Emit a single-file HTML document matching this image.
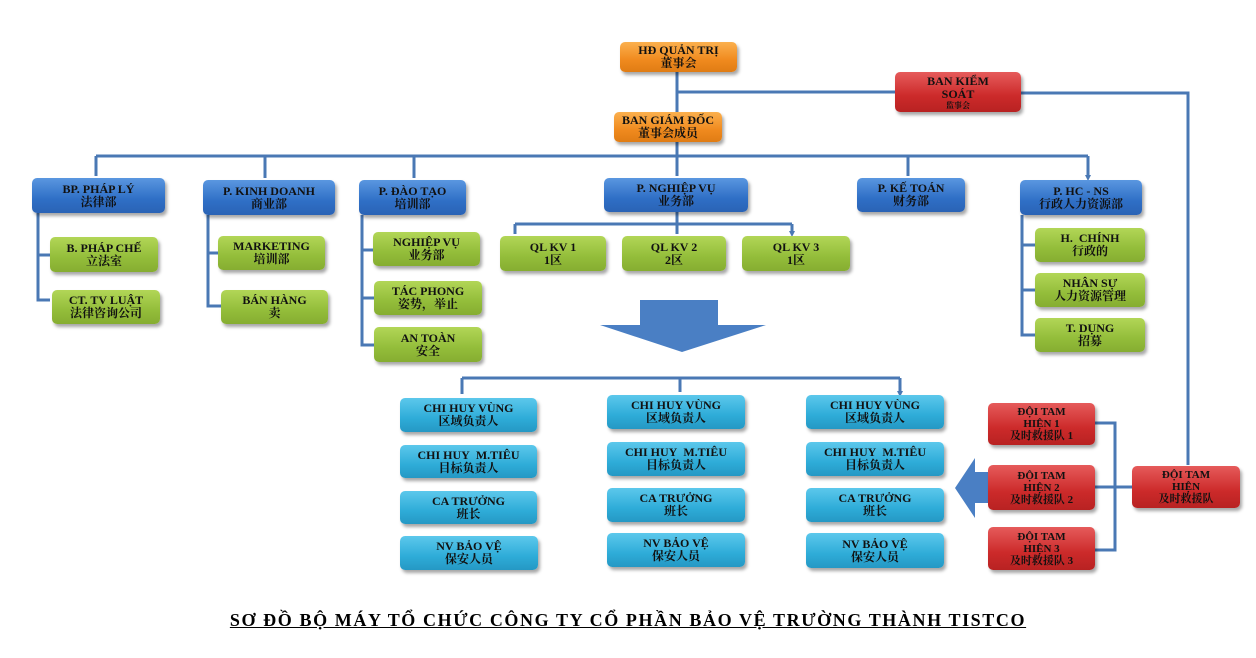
<!DOCTYPE html>
<html><head><meta charset="utf-8"><style>
body{margin:0;width:1256px;height:658px;background:#fff;position:relative;overflow:hidden;font-family:"Liberation Serif","Noto Serif CJK SC","Noto Sans CJK SC",serif}
.b{position:absolute;border-radius:5px;box-shadow:2px 3px 3px rgba(0,0,0,.35);font-weight:bold;font-size:12px;line-height:13px;text-align:center;display:flex;flex-direction:column;justify-content:center;color:#111;box-sizing:border-box}
.bl{background:linear-gradient(#5a97e0,#2f6fc6 60%,#2a63b5)}
.gr{background:linear-gradient(#b2d657,#93bd3a 60%,#86ad31)}
.or{background:linear-gradient(#fbb04e,#f08a1e 60%,#e07c14)}
.rd{background:linear-gradient(#e65b5b,#cc2a2a 60%,#b82222)}
.cy{background:linear-gradient(#5cc8ec,#2eacd8 60%,#2598c4)}
svg{position:absolute;left:0;top:0}
.t{position:absolute;left:0;width:1256px;top:610px;text-align:center;font-weight:bold;font-size:18px;letter-spacing:1.6px;text-decoration:underline}
</style></head><body>
<svg width="1256" height="658" fill="none" stroke="#4a78b4" stroke-width="3">
<defs><marker id="a" markerWidth="6" markerHeight="6" refX="3" refY="3" orient="auto" markerUnits="userSpaceOnUse"><path d="M0,0L6,3L0,6z" fill="#4a78b4" stroke="none"/></marker></defs>
<path d="M677 72V112M677 92H895M1021 93H1188V465"/>
<path d="M677 142V176M96 156H1088"/>
<path d="M96 156V176M265 156V178M414 156V178M908 156V176M1088 156V178" marker-end="url(#a)"/>
<path d="M677 212V234M515 224H792M515 224V234M792 224V234" marker-end="url(#a)"/>
<path d="M38 213V300H50M38 255H50M208 215V306H221M208 253H218M362 215V345H374M362 250H373M362 298H374M1022 215V335H1035M1022 245H1035M1022 290H1035"/>
<path d="M462 378H900M462 378V394M680 378V392M900 378V394" marker-end="url(#a)"/>
<path d="M1095 423H1115V550H1095M1095 487H1132"/>
</svg>
<svg width="1256" height="658"><path d="M640 300H718V325H766L682 352L600 325H640Z" fill="#4a7fc4"/><path d="M988 472H975V458L955 488L975 518V503H988Z" fill="#4a7fc4"/></svg>
<div class="b or" style="left:620px;top:42px;width:117px;height:30px">HĐ QUẢN TRỊ<span>董事会</span></div>
<div class="b or" style="left:614px;top:112px;width:108px;height:30px">BAN GIÁM ĐỐC<span>董事会成员</span></div>
<div class="b rd" style="left:895px;top:72px;width:126px;height:40px">BAN KIỂM<br>SOÁT<span style="font-size:8px;line-height:9px">监事会</span></div>
<div class="b bl" style="left:32px;top:178px;width:133px;height:35px">BP. PHÁP LÝ<br>法律部</div>
<div class="b bl" style="left:203px;top:180px;width:132px;height:35px">P. KINH DOANH<br>商业部</div>
<div class="b bl" style="left:359px;top:180px;width:107px;height:35px">P. ĐÀO TẠO<br>培训部</div>
<div class="b bl" style="left:604px;top:178px;width:144px;height:34px">P. NGHIỆP VỤ<br>业务部</div>
<div class="b bl" style="left:857px;top:178px;width:108px;height:34px">P. KẾ TOÁN<br>财务部</div>
<div class="b bl" style="left:1020px;top:180px;width:122px;height:35px">P. HC - NS<br>行政人力资源部</div>
<div class="b gr" style="left:50px;top:237px;width:108px;height:35px">B. PHÁP CHẾ<br>立法室</div>
<div class="b gr" style="left:52px;top:290px;width:108px;height:34px">CT. TV LUẬT<br>法律咨询公司</div>
<div class="b gr" style="left:218px;top:236px;width:107px;height:34px">MARKETING<br>培训部</div>
<div class="b gr" style="left:221px;top:290px;width:107px;height:34px">BÁN HÀNG<br>卖</div>
<div class="b gr" style="left:373px;top:232px;width:107px;height:34px">NGHIỆP VỤ<br>业务部</div>
<div class="b gr" style="left:374px;top:281px;width:108px;height:34px">TÁC PHONG<br>姿势，举止</div>
<div class="b gr" style="left:374px;top:327px;width:108px;height:35px">AN TOÀN<br>安全</div>
<div class="b gr" style="left:500px;top:236px;width:106px;height:35px">QL KV 1<br>1区</div>
<div class="b gr" style="left:622px;top:236px;width:104px;height:35px">QL KV 2<br>2区</div>
<div class="b gr" style="left:742px;top:236px;width:108px;height:35px">QL KV 3<br>1区</div>
<div class="b gr" style="left:1035px;top:228px;width:110px;height:34px">H.&nbsp; CHÍNH<br>行政的</div>
<div class="b gr" style="left:1035px;top:273px;width:110px;height:34px">NHÂN SỰ<br>人力资源管理</div>
<div class="b gr" style="left:1035px;top:318px;width:110px;height:34px">T. DỤNG<br>招募</div>
<div class="b cy" style="left:400px;top:398px;width:137px;height:34px">CHI HUY VÙNG<br>区域负责人</div>
<div class="b cy" style="left:400px;top:445px;width:137px;height:33px">CHI HUY&nbsp; M.TIÊU<br>目标负责人</div>
<div class="b cy" style="left:400px;top:491px;width:137px;height:33px">CA TRƯỞNG<br>班长</div>
<div class="b cy" style="left:400px;top:536px;width:138px;height:34px">NV BẢO VỆ<br>保安人员</div>
<div class="b cy" style="left:607px;top:395px;width:138px;height:34px">CHI HUY VÙNG<br>区域负责人</div>
<div class="b cy" style="left:607px;top:442px;width:138px;height:34px">CHI HUY&nbsp; M.TIÊU<br>目标负责人</div>
<div class="b cy" style="left:607px;top:488px;width:138px;height:34px">CA TRƯỞNG<br>班长</div>
<div class="b cy" style="left:607px;top:533px;width:138px;height:34px">NV BẢO VỆ<br>保安人员</div>
<div class="b cy" style="left:806px;top:395px;width:138px;height:34px">CHI HUY VÙNG<br>区域负责人</div>
<div class="b cy" style="left:806px;top:442px;width:138px;height:34px">CHI HUY&nbsp; M.TIÊU<br>目标负责人</div>
<div class="b cy" style="left:806px;top:488px;width:138px;height:34px">CA TRƯỞNG<br>班长</div>
<div class="b cy" style="left:806px;top:533px;width:138px;height:35px">NV BẢO VỆ<br>保安人员</div>
<div class="b rd" style="left:988px;top:403px;width:107px;height:42px;font-size:11px;line-height:12px">ĐỘI TAM<br>HIỆN 1<br>及时救援队 1</div>
<div class="b rd" style="left:988px;top:465px;width:107px;height:45px;font-size:11px;line-height:12px">ĐỘI TAM<br>HIỆN 2<br>及时救援队 2</div>
<div class="b rd" style="left:988px;top:527px;width:107px;height:43px;font-size:11px;line-height:12px">ĐỘI TAM<br>HIỆN 3<br>及时救援队 3</div>
<div class="b rd" style="left:1132px;top:466px;width:108px;height:42px;font-size:11px;line-height:12px">ĐỘI TAM<br>HIỆN<br>及时救援队</div>
<div class="t">SƠ ĐỒ BỘ MÁY TỔ CHỨC CÔNG TY CỔ PHẦN BẢO VỆ TRƯỜNG THÀNH TISTCO</div>
</body></html>
